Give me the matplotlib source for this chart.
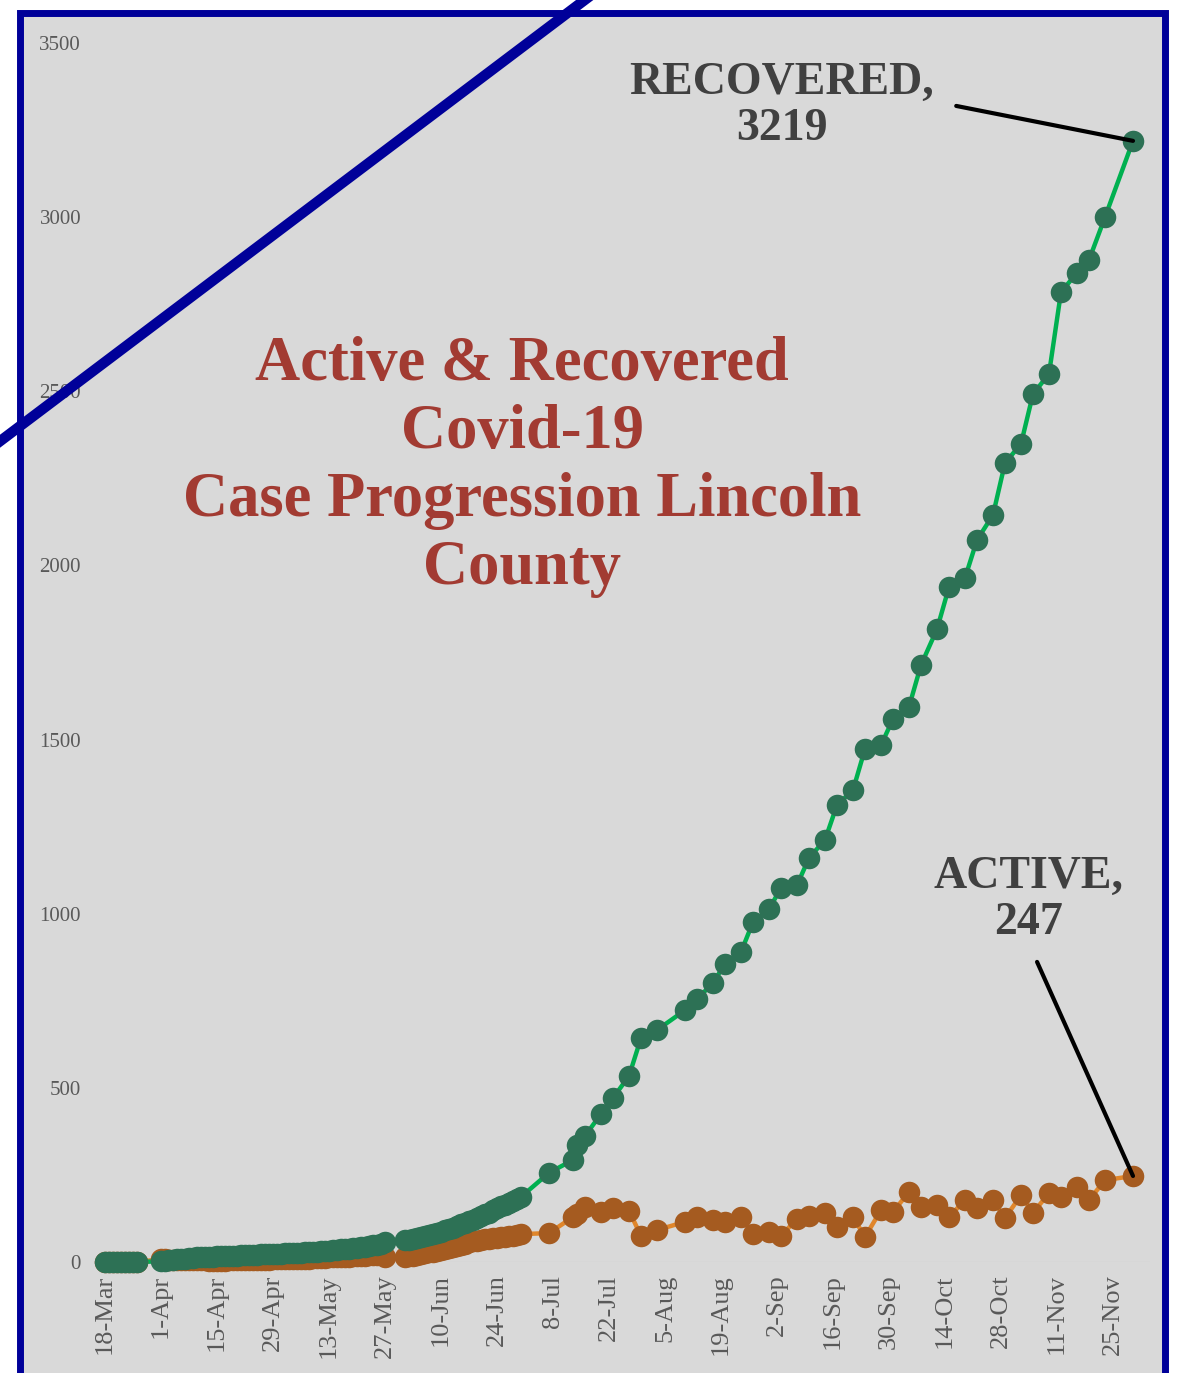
import numpy as np
import pandas as pd
import matplotlib
matplotlib.use("Agg")
import matplotlib.pyplot as plt
from matplotlib.patches import Rectangle
from matplotlib.lines import Line2D

# ---- data ----
# daily reports 18-26 Mar
dates_a = pd.date_range("2020-03-18", "2020-03-26")
recovered_a = [0, 0, 0, 0, 0, 0, 0, 0, 0]
active_a = [0, 0, 0, 0, 0, 0, 0, 0, 0]

# daily reports 1 Apr - 27 May
dates_b = pd.date_range("2020-04-01", "2020-05-27")
recovered_b = [2, 4, 5, 7, 8, 9, 10, 11, 12, 13,
               14, 14, 15, 15, 16, 16, 17, 17, 18, 18,
               19, 19, 20, 20, 21, 22, 22, 23, 23, 24,
               24, 25, 25, 26, 26, 27, 28, 28, 29, 30,
               31, 32, 33, 34, 35, 36, 37, 38, 40, 41,
               43, 44, 46, 48, 50, 53, 57]
active_b = [8, 8, 7, 7, 6, 6, 6, 5, 5, 5,
            5, 5, 4, 4, 4, 4, 4, 5, 5, 5,
            5, 6, 6, 6, 6, 7, 7, 7, 8, 8,
            8, 8, 9, 9, 9, 10, 10, 10, 11, 11,
            12, 12, 13, 13, 14, 14, 15, 15, 16, 17,
            17, 18, 19, 20, 21, 22, 14]

# daily reports 1 Jun - 30 Jun
dates_c = pd.date_range("2020-06-01", "2020-06-30")
recovered_c = [62, 64, 66, 69, 72, 75, 78, 81, 84, 87,
               91, 95, 99, 103, 108, 112, 117, 122, 127, 132,
               137, 142, 148, 154, 160, 165, 170, 175, 181, 187]
active_c = [14, 16, 18, 20, 23, 26, 28, 30, 33, 35,
            38, 41, 44, 47, 50, 53, 56, 59, 61, 63,
            65, 67, 69, 70, 72, 73, 75, 76, 78, 80]

# twice-weekly reports from July
dates_d = pd.to_datetime([
    "2020-07-07", "2020-07-13", "2020-07-14", "2020-07-16", "2020-07-20",
    "2020-07-23", "2020-07-27", "2020-07-30", "2020-08-03", "2020-08-10",
    "2020-08-13", "2020-08-17", "2020-08-20", "2020-08-24", "2020-08-27",
    "2020-08-31", "2020-09-03", "2020-09-07", "2020-09-10", "2020-09-14",
    "2020-09-17", "2020-09-21", "2020-09-24", "2020-09-28", "2020-10-01",
    "2020-10-05", "2020-10-08", "2020-10-12", "2020-10-15", "2020-10-19",
    "2020-10-22", "2020-10-26", "2020-10-29", "2020-11-02", "2020-11-05",
    "2020-11-09", "2020-11-12", "2020-11-16", "2020-11-19", "2020-11-23",
    "2020-11-30"])
recovered_d = [256, 293, 336, 362, 425,
               471, 534, 643, 666, 723,
               755, 801, 856, 890, 976,
               1013, 1074, 1082, 1160, 1212,
               1312, 1355, 1473, 1484, 1559,
               1594, 1714, 1817, 1938, 1964,
               2073, 2145, 2294, 2349, 2492,
               2550, 2785, 2840, 2877, 3000,
               3219]
active_d = [83, 129, 138, 158, 144,
            155, 147, 75, 92, 115,
            129, 121, 115, 129, 80,
            86, 75, 124, 132, 141,
            100, 129, 72, 149, 144,
            201, 158, 164, 129, 178,
            155, 178, 126, 192, 141,
            198, 187, 215, 178, 235,
            247]

tick_labels = ["18-Mar", "1-Apr", "15-Apr", "29-Apr", "13-May", "27-May",
               "10-Jun", "24-Jun", "8-Jul", "22-Jul", "5-Aug", "19-Aug",
               "2-Sep", "16-Sep", "30-Sep", "14-Oct", "28-Oct", "11-Nov",
               "25-Nov"]
y_ticks = [0, 500, 1000, 1500, 2000, 2500, 3000, 3500]

dates = dates_a.append(dates_b).append(dates_c).append(dates_d)
recovered = recovered_a + recovered_b + recovered_c + recovered_d
active = active_a + active_b + active_c + active_d

W, H = 1187, 1373
fig = plt.figure(figsize=(W / 100, H / 100), dpi=100)
fig.patch.set_facecolor("white")

# grey panel with navy frame
fig.add_artist(Rectangle((19.5 / W, -0.02), (1164.5 - 19.5) / W, 1 - 13 / H + 0.02,
                         transform=fig.transFigure, facecolor="#d9d9d9",
                         edgecolor="#000099", linewidth=5.0, zorder=0))

ax = fig.add_axes([95 / W, (H - 1262) / H, (1150 - 95) / W, (1262 - 43) / H])
ax.set_facecolor("none")

font = "Liberation Serif"


def plot_series(x, y, line_col, marker_col):
    ax.plot(x, y, color=line_col, lw=3.2, solid_capstyle="round",
            zorder=2, clip_on=False)
    ax.plot(x, y, "o", color=marker_col, markersize=15.5, markeredgewidth=0,
            zorder=3, clip_on=False)


plot_series(dates, active, "#e0862b", "#a55b20")
plot_series(dates, recovered, "#00b050", "#2d7155")

start = pd.Timestamp("2020-03-18")
ax.set_xlim(start - pd.Timedelta(days=2.5), start + pd.Timedelta(days=261.25))
ax.set_ylim(0, 3500)

tick_pos = [start + pd.Timedelta(days=14 * i) for i in range(len(tick_labels))]
ax.set_xticks(tick_pos)
ax.set_xticklabels(tick_labels, rotation=90, fontfamily=font, fontsize=19,
                   color="#595959", va="top", ha="center")
ax.set_yticks(y_ticks)
ax.set_yticklabels([str(v) for v in y_ticks], fontfamily=font, fontsize=15,
                   color="#595959")
ax.tick_params(axis="both", length=0)
ax.tick_params(axis="x", pad=9)
ax.tick_params(axis="y", pad=10)
for s in ax.spines.values():
    s.set_visible(False)
ax.axhline(0, color="#d0d0d0", lw=1, zorder=1)

# title inside the plot
fig.text(522 / W, 1 - 467 / H,
         "Active & Recovered\nCovid-19\nCase Progression Lincoln\nCounty",
         ha="center", va="center", multialignment="center", fontfamily=font,
         fontsize=45, fontweight="bold", color="#a23b32", linespacing=1.22)

# callouts
ax.annotate("RECOVERED,\n3219", xy=(dates[-1], recovered[-1]),
            xytext=(782, H - 106), textcoords="figure pixels",
            ha="center", va="center", multialignment="center",
            fontfamily=font, fontsize=33, fontweight="bold", color="#404040",
            linespacing=1.12,
            arrowprops=dict(arrowstyle="-", color="black", lw=3,
                            relpos=(1.0, 0.55), shrinkA=14, shrinkB=0))
ax.annotate("ACTIVE,\n247", xy=(dates[-1], active[-1]),
            xytext=(1029, H - 900), textcoords="figure pixels",
            ha="center", va="center", multialignment="center",
            fontfamily=font, fontsize=33, fontweight="bold", color="#404040",
            linespacing=1.12,
            arrowprops=dict(arrowstyle="-", color="black", lw=3,
                            relpos=(0.5, 0.0), shrinkA=12, shrinkB=0))

# diagonal navy stroke across the corner
fig.add_artist(Line2D([-5 / W, 590 / W], [1 - 445 / H, 1 + 4 / H],
                      transform=fig.transFigure, color="#000099", lw=7.5,
                      zorder=10))

fig.savefig("out.png", dpi=100)
